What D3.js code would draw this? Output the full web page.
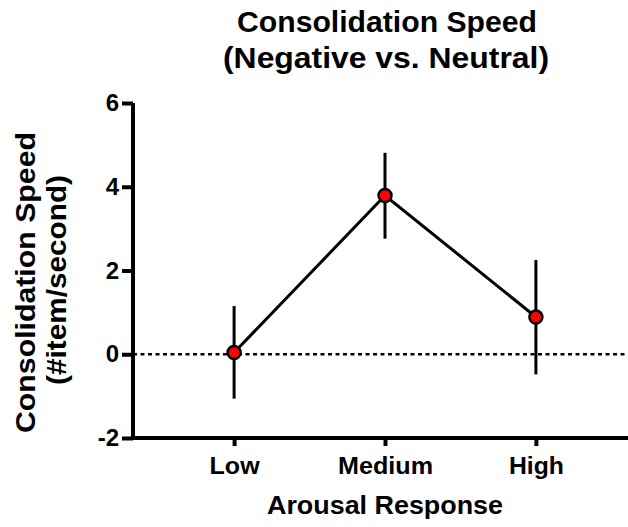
<!DOCTYPE html>
<html>
<head>
<meta charset="utf-8">
<script src="https://cdn.jsdelivr.net/npm/d3@7"></script>
<style>
  body { margin: 0; background: #fff; }
  svg text { font-family: "Liberation Sans", Arial, sans-serif; font-weight: bold; fill: #000; }
  .y-axis text { font-size: 24px; }
</style>
</head>
<body>
<div id="chart"></div>
<script>
// categories and values
var categories = ["Low", "Medium", "High"];
var means = [0.04, 3.79, 0.89];
var upper = [1.15, 4.81, 2.25];
var lower = [-1.06, 2.76, -0.48];
var yTicks = [-2, 0, 2, 4, 6];
var catWidths = {Low: 50, Medium: 95, High: 55};

var width = 628, height = 527;
var margin = {top: 103, right: -9, bottom: 89, left: 133};
var w = width - margin.left - margin.right,
    h = height - margin.top - margin.bottom;

var svg = d3.select("#chart").append("svg")
    .attr("width", width)
    .attr("height", height);

var g = svg.append("g")
    .attr("transform", "translate(" + margin.left + "," + margin.top + ")");

var x = d3.scalePoint().domain(categories).range([0, w]).padding(0.67);
var y = d3.scaleLinear().domain([-2, 6]).range([h, 0]);

var data = categories.map(function(c, i) {
  return {cat: c, mean: means[i], hi: upper[i], lo: lower[i]};
});

// zero reference line
g.append("line")
    .attr("x1", 0).attr("x2", w)
    .attr("y1", y(0)).attr("y2", y(0))
    .attr("stroke", "#000")
    .attr("stroke-width", 2.5)
    .attr("stroke-dasharray", "4,3.5");

// y axis
var yAxis = g.append("g")
    .attr("class", "y-axis")
    .call(d3.axisLeft(y).tickValues(yTicks).tickSize(11).tickPadding(3)
      .tickFormat(function(d) { return String(d); }));
yAxis.attr("font-size", 24).attr("font-family", null);
yAxis.select(".domain").style("stroke-width", "4px").attr("d", "M0," + (h + 2) + "V0");
yAxis.selectAll(".tick line").style("stroke-width", "4px");
yAxis.selectAll(".tick text").attr("font-size", 24).style("font-size", "24px");

// x axis
var xAxis = g.append("g")
    .attr("transform", "translate(0," + h + ")")
    .call(d3.axisBottom(x).tickSize(8).tickPadding(11));
xAxis.select(".domain").style("stroke-width", "4px").attr("d", "M-2,0H" + w);
xAxis.selectAll(".tick line").style("stroke-width", "4px");
xAxis.selectAll(".tick text").style("font-size", "24px").attr("dy", "0.71em")
    .attr("textLength", function(d) { return catWidths[d]; })
    .attr("lengthAdjust", "spacingAndGlyphs");

// error bars
g.selectAll(".err").data(data).enter().append("line")
    .attr("class", "err")
    .attr("x1", function(d) { return x(d.cat); })
    .attr("x2", function(d) { return x(d.cat); })
    .attr("y1", function(d) { return y(d.lo); })
    .attr("y2", function(d) { return y(d.hi); })
    .attr("stroke", "#000")
    .attr("stroke-width", 3);

// connecting line
var line = d3.line()
    .x(function(d) { return x(d.cat); })
    .y(function(d) { return y(d.mean); });

g.append("path")
    .datum(data)
    .attr("fill", "none")
    .attr("stroke", "#000")
    .attr("stroke-width", 3)
    .attr("d", line);

// points
g.selectAll(".pt").data(data).enter().append("circle")
    .attr("class", "pt")
    .attr("cx", function(d) { return x(d.cat); })
    .attr("cy", function(d) { return y(d.mean); })
    .attr("r", 6.5)
    .attr("fill", "#ff0000")
    .attr("stroke", "#000")
    .attr("stroke-width", 2.5);

function label(sel, txt, len) {
  return sel.text(txt).attr("textLength", len).attr("lengthAdjust", "spacingAndGlyphs");
}

// title
var title = svg.append("text")
    .attr("text-anchor", "middle")
    .style("font-size", "29px");
label(title.append("tspan").attr("x", 387).attr("y", 32), "Consolidation Speed", 300);
label(title.append("tspan").attr("x", 386).attr("y", 68), "(Negative vs. Neutral)", 326);

// x label
label(svg.append("text")
    .attr("x", 385)
    .attr("y", 514)
    .attr("text-anchor", "middle")
    .style("font-size", "26px"), "Arousal Response", 236);

// y label
label(svg.append("text")
    .attr("transform", "translate(35,282.5) rotate(-90)")
    .attr("text-anchor", "middle")
    .style("font-size", "28px"), "Consolidation Speed", 301);
label(svg.append("text")
    .attr("transform", "translate(66,280) rotate(-90)")
    .attr("text-anchor", "middle")
    .style("font-size", "28px"), "(#item/second)", 210);
</script>
</body>
</html>
